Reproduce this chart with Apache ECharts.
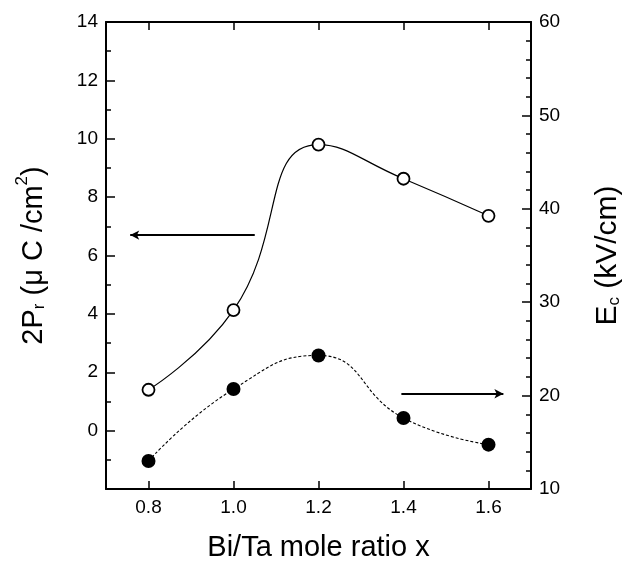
<!DOCTYPE html>
<html>
<head>
<meta charset="utf-8">
<script src="https://cdn.jsdelivr.net/npm/echarts@6/dist/echarts.min.js"></script>
<style>html,body{margin:0;padding:0;background:#fff}#c{width:625px;height:564px}</style>
</head>
<body>
<div id="c"></div>
<script>
var xRatio = [0.8, 1.0, 1.2, 1.4, 1.6];
var pr2 = [1.40, 4.13, 9.80, 8.63, 7.36];
var ec = [13.0, 20.7, 24.3, 17.6, 14.75];
var xTicks = [0.8, 1.0, 1.2, 1.4, 1.6];
var leftTicks = [0, 2, 4, 6, 8, 10, 12, 14];
var rightTicks = [10, 20, 30, 40, 50, 60];
var leftArrow = [[1.05, 6.7], [0.757, 6.7]];
var rightArrow = [[1.395, 20.2], [1.635, 20.2]];

var FONT = '"Liberation Sans", Arial, sans-serif';
var chart = echarts.init(document.getElementById('c'), null, {renderer: 'canvas'});

function pairs(xs, ys) { return xs.map(function (x, i) { return [x, ys[i]]; }); }

var axisLine = {show: true, onZero: false, lineStyle: {color: '#000', width: 2}};

chart.setOption({
  animation: false,
  backgroundColor: '#fff',
  grid: {left: 106, right: 94, top: 22, bottom: 75, containLabel: false, outerBoundsMode: 'none'},
  xAxis: [{
    type: 'value', min: 0.7, max: 1.7, position: 'bottom',
    axisLine: axisLine,
    axisTick: {show: true, inside: true, length: 8, lineStyle: {color: '#000', width: 1.5}, customValues: xTicks},
    axisLabel: {show: true, margin: 9, color: '#000', fontSize: 19, fontFamily: FONT, customValues: xTicks,
      formatter: function (v) { return v.toFixed(1); }},
    splitLine: {show: false},
    name: 'Bi/Ta mole ratio x', nameLocation: 'middle', nameGap: 44,
    nameTextStyle: {color: '#000', fontSize: 29, fontFamily: FONT}
  }, {
    type: 'value', min: 0.7, max: 1.7, position: 'top',
    axisLine: axisLine,
    axisTick: {show: true, inside: true, length: 8, lineStyle: {color: '#000', width: 1.5}, customValues: xTicks},
    axisLabel: {show: false},
    splitLine: {show: false}
  }],
  yAxis: [{
    type: 'value', min: -2, max: 14, interval: 2, position: 'left',
    axisLine: axisLine,
    axisTick: {show: true, inside: true, length: 9, lineStyle: {color: '#000', width: 1.5}},
    minorTick: {show: true, splitNumber: 2, length: 5, lineStyle: {color: '#000', width: 1.5}},
    axisLabel: {show: true, margin: 8, color: '#000', fontSize: 19, fontFamily: FONT, customValues: leftTicks},
    splitLine: {show: false},
    name: '{a|2P}{s|r}{a| (μ C /cm}{p|2}{a|)}', nameLocation: 'middle', nameRotate: 90, nameGap: 58,
    nameTextStyle: {color: '#000', fontFamily: FONT,
      rich: {
        a: {fontSize: 29, fontFamily: FONT, color: '#000', verticalAlign: 'bottom', lineHeight: 34},
        s: {fontSize: 17, fontFamily: FONT, color: '#000', verticalAlign: 'bottom', lineHeight: 26},
        p: {fontSize: 17, fontFamily: FONT, color: '#000', verticalAlign: 'top', lineHeight: 34}
      }}
  }, {
    type: 'value', min: 10, max: 60, interval: 10, position: 'right',
    axisLine: axisLine,
    axisTick: {show: true, inside: true, length: 9, lineStyle: {color: '#000', width: 1.5}},
    minorTick: {show: true, splitNumber: 5, length: 5, lineStyle: {color: '#000', width: 1.5}},
    axisLabel: {show: true, margin: 8, color: '#000', fontSize: 19, fontFamily: FONT, customValues: rightTicks},
    splitLine: {show: false},
    name: '{a|E}{s|c}{a| (kV/cm)}', nameLocation: 'middle', nameRotate: 90, nameGap: 58,
    nameTextStyle: {color: '#000', fontFamily: FONT,
      rich: {
        a: {fontSize: 30, fontFamily: FONT, color: '#000', verticalAlign: 'bottom', lineHeight: 34},
        s: {fontSize: 17, fontFamily: FONT, color: '#000', verticalAlign: 'bottom', lineHeight: 26}
      }}
  }],
  series: [{
    type: 'line', xAxisIndex: 0, yAxisIndex: 0,
    data: pairs(xRatio, pr2), smooth: 0.5,
    symbol: 'circle', symbolSize: 12,
    lineStyle: {color: '#000', width: 1.2},
    itemStyle: {color: '#fff', borderColor: '#000', borderWidth: 1.8},
    z: 3,
    markLine: {
      silent: true, symbol: ['none', 'arrow'], symbolSize: [7, 9],
      label: {show: false},
      lineStyle: {color: '#000', width: 1.8, type: 'solid'},
      data: [[{coord: leftArrow[0]}, {coord: leftArrow[1]}]]
    }
  }, {
    type: 'line', xAxisIndex: 0, yAxisIndex: 1,
    data: pairs(xRatio, ec), smooth: 0.5,
    symbol: 'circle', symbolSize: 14,
    lineStyle: {color: '#000', width: 1.1, type: [3, 2]},
    itemStyle: {color: '#000', borderColor: '#000', borderWidth: 0},
    z: 3,
    markLine: {
      silent: true, symbol: ['none', 'arrow'], symbolSize: [7, 9],
      label: {show: false},
      lineStyle: {color: '#000', width: 1.8, type: 'solid'},
      data: [[{coord: rightArrow[0]}, {coord: rightArrow[1]}]]
    }
  }]
});
</script>
</body>
</html>
